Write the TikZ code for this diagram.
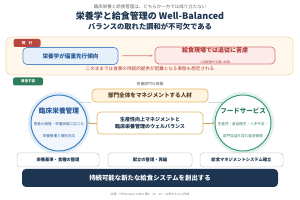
\documentclass[tikz,border=0pt]{standalone}
\usepackage{fontspec}
\setmainfont{Noto Sans CJK JP}
\usetikzlibrary{arrows.meta}

\definecolor{navy}{HTML}{1D3550}
\definecolor{tagred}{HTML}{B9473F}
\definecolor{tagteal}{HTML}{2E7D5B}
\definecolor{skyfill}{HTML}{E6F0FA}
\definecolor{skyline}{HTML}{5A8CC8}
\definecolor{skytext}{HTML}{2A5A9A}
\definecolor{rosefill}{HTML}{FCEBEA}
\definecolor{roseline}{HTML}{D87B78}
\definecolor{rosetext}{HTML}{B03A35}
\definecolor{creamfill}{HTML}{FFF7EC}
\definecolor{creamline}{HTML}{F6DDB8}
\definecolor{goldfill}{HTML}{FDF3E0}
\definecolor{goldline}{HTML}{E5B866}
\definecolor{goldtext}{HTML}{5A4020}
\definecolor{bluering}{HTML}{3C80C4}
\definecolor{greenring}{HTML}{3A9A78}

\tikzset{every picture/.style={line width=0.5pt}}
\tikzset{
  tagbox/.style={rounded corners=2pt, text=white, minimum height=8pt, inner sep=0pt, font=\fontsize{3.5}{4}\selectfont\bfseries},
  panel/.style={rounded corners=4pt, inner sep=0pt, line width=0.7pt, align=center},
  ringnode/.style={circle, minimum size=56pt, inner sep=0pt, line width=1pt},
  pillbox/.style={rounded corners=3pt, draw=black!20, fill=white, minimum width=83pt, minimum height=14pt, inner sep=0pt, font=\fontsize{4.3}{5}\selectfont\bfseries, text=navy}
}

\begin{document}
\begin{tikzpicture}[x=1pt,y=-1pt]
        \useasboundingbox (0,0) rectangle (300,200);
        \fill[white] (0,0) rectangle (300,200);
        % heading
        \node[font=\fontsize{4.5}{5}\selectfont, text=black!60] (lead) at (150,6.5) {臨床栄養と給食管理は、どちらか一方では成り立たない};
        \node[font=\fontsize{9}{10}\selectfont\bfseries, text=navy] (title) at (150,16) {栄養学と給食管理の Well-Balanced};
        \node[font=\fontsize{7.3}{8}\selectfont\bfseries, text=navy] (subtitle) at (150,27) {バランスの取れた調和が不可欠である};
        % current state
        \draw[rounded corners=5pt, fill=creamfill, draw=creamline, line width=0.8pt] (6,37) rectangle (293,75);
        \node[tagbox, fill=tagred, minimum width=27pt] (nowtag) at (27,43) {現　行};
        \node[panel, draw=skyline, fill=skyfill, minimum width=95pt, minimum height=17pt, text=skytext, font=\fontsize{5.6}{6}\selectfont\bfseries] (cur) at (70.5,56) {栄養学が偏重先行傾向};
        \node[panel, draw=roseline, fill=rosefill, minimum width=120pt, minimum height=17pt, text=rosetext] (prob) at (215,55.5)
            {{\fontsize{6}{7}\selectfont\bfseries 給食現場では追従に苦慮}\\[-1.5pt]{\fontsize{3}{3.5}\selectfont 人員配置が手薄い状態}};
        \draw[-{Stealth[length=3pt]}, color=roseline, line width=0.8pt, shorten <=4pt, shorten >=2pt] (cur) -- (prob);
        \node[font=\fontsize{4.6}{5}\selectfont, text=rosetext] (warn) at (150,69) {このままでは食事の持続的提供が困難となる事態も想定される};
        % target state
        \node[tagbox, fill=tagteal, minimum width=30pt] (goaltag) at (28,81.5) {目指す姿};
        \node[font=\fontsize{3.8}{4}\selectfont, text=black!65] (pair) at (150,84.5) {栄養部門の両輪};
        \fill[color=bluering!15] (59,123) circle (31pt);
        \fill[color=greenring!15] (243,123) circle (31pt);
        \node[ringnode, draw=bluering, fill=skyfill!60] (clin) at (59,123) {};
        \node[ringnode, draw=greenring, fill=white] (food) at (243,123) {};
        \node[align=center, text=skytext, inner sep=0pt] at (clin)
            {{\fontsize{6.7}{8}\selectfont\bfseries 臨床栄養管理}\\{\fontsize{3.6}{5}\selectfont 患者の病態・栄養状態に応じた}\\{\fontsize{3.6}{5}\selectfont 栄養管理と個別対応}};
        \node[align=center, text=greenring!80!black, inner sep=0pt] at (food)
            {{\fontsize{6.5}{8}\selectfont\bfseries フードサービス}\\{\fontsize{3.6}{5}\selectfont 生産性・食品衛生・人手不足・}\\{\fontsize{3.6}{5}\selectfont 部門収益を含む経営管理}};
        \node[panel, draw=goldline, fill=goldfill, minimum width=116pt, minimum height=13pt, text=goldtext, font=\fontsize{5.6}{6}\selectfont\bfseries] (mgr) at (150,95.5) {部門全体をマネジメントする人材};
        \draw[color=black!25] (clin.46) -- (mgr.south west);
        \draw[color=black!25] (food.134) -- (mgr.south east);
        \node[panel, draw=goldline, fill=white, minimum width=106pt, minimum height=22pt, text=navy, font=\fontsize{5}{7.5}\selectfont\bfseries] (bal) at (150,123)
            {生産性向上マネジメントと\\臨床栄養管理のウェルバランス};
        \draw[-{Stealth[length=2.5pt]}, color=goldline!90!black, line width=0.7pt] (bal) -- (clin);
        \draw[-{Stealth[length=2.5pt]}, color=goldline!90!black, line width=0.7pt] (bal) -- (food);
        % actions
        \node[pillbox, minimum width=82pt] (menu1) at (58,160) {栄養基準・食種の整理};
        \node[pillbox, minimum width=84pt] (menu2) at (150,160) {献立の整理・再編};
        \node[pillbox] (menu3) at (241.5,160) {給食マネジメントシステム確立};
        \node[rounded corners=4pt, fill=navy, minimum width=256pt, minimum height=18pt, inner sep=0pt, text=white, font=\fontsize{6.4}{7}\selectfont\bfseries] (goal) at (150,178) {持続可能な新たな給食システムを創出する};
        \node[font=\fontsize{3}{3.5}\selectfont, text=black!50] (src) at (150,194) {出典：HFSA News Letter 第4・12・15・30号をもとに作成};
    \end{tikzpicture}
\end{document}
